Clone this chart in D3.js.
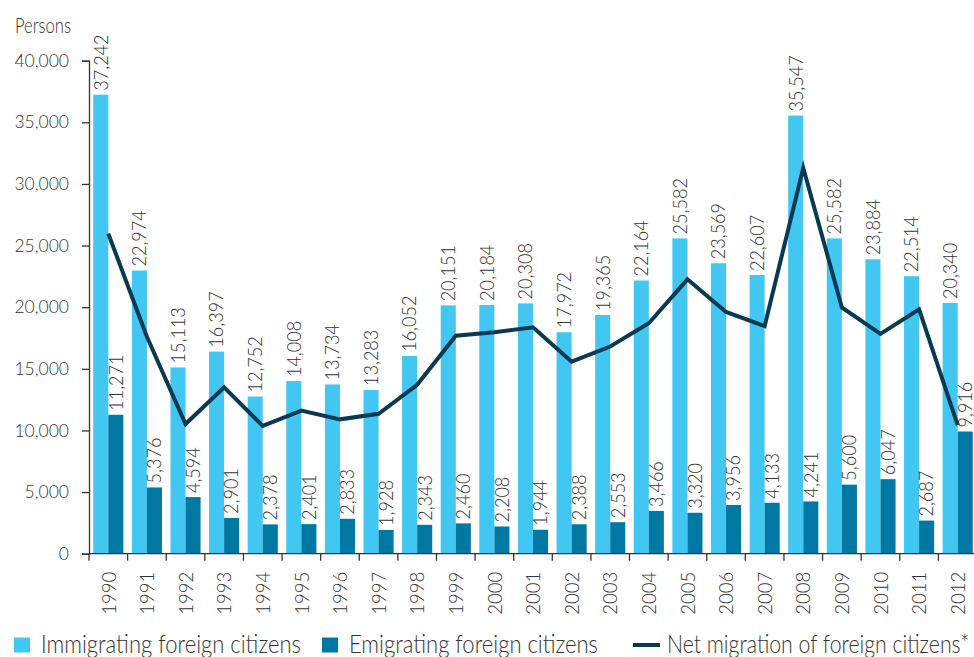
<!DOCTYPE html>
<html>
<head>
<meta charset="utf-8">
<script src="https://cdn.jsdelivr.net/npm/d3@7"></script>
<style>
  body { margin: 0; background: #fff; }
  text { font-family: Lato, Roboto, "DejaVu Sans", sans-serif; font-weight: 300; fill: #333; }
</style>
</head>
<body>
<div id="chart-area"></div>
<script>
// data
var years = ["1990","1991","1992","1993","1994","1995","1996","1997","1998","1999","2000","2001",
             "2002","2003","2004","2005","2006","2007","2008","2009","2010","2011","2012"];
var immigrating = [37242, 22974, 15113, 16397, 12752, 14008, 13734, 13283, 16052, 20151, 20184, 20308,
                   17972, 19365, 22164, 25582, 23569, 22607, 35547, 25582, 23884, 22514, 20340];
var emigrating = [11271, 5376, 4594, 2901, 2378, 2401, 2833, 1928, 2343, 2460, 2208, 1944,
                  2388, 2553, 3466, 3320, 3956, 4133, 4241, 5600, 6047, 2687, 9916];
var netMigration = [25971, 17598, 10519, 13496, 10374, 11607, 10901, 11355, 13709, 17691, 17976, 18364,
                    15584, 16812, 18698, 22262, 19613, 18474, 31306, 19982, 17837, 19827, 10424];
var yTicks = [0, 5000, 10000, 15000, 20000, 25000, 30000, 35000, 40000];
var seriesNames = ["Immigrating foreign citizens", "Emigrating foreign citizens", "Net migration of foreign citizens*"];

var width = 974;
var height = 657;
var colors = {imm: "#41c7f2", emi: "#0078a4", net: "#0a3a52"};

var svg = d3.select('#chart-area')
    .append('svg')
        .attr('width', width)
        .attr('height', height);

var y = d3.scaleLinear().domain([0, 40000]).range([553.7, 60.7]);
var x = d3.scaleBand().domain(years).range([89, 977]).paddingInner(0.22).paddingOuter(0.11);
var inner = d3.scaleBand().domain(["imm", "emi"]).range([0, x.bandwidth()]);
var fmt = d3.format(",");

// y axis
var leftAxis = d3.axisLeft(y).tickValues(yTicks).tickFormat(fmt).tickSize(7).tickPadding(13);
var gy = svg.append("g")
    .attr("transform", "translate(89,0)")
    .call(leftAxis);
gy.select(".domain").attr("stroke", "#333").attr("stroke-width", 1.3);
gy.selectAll(".tick line").attr("stroke", "#333").attr("stroke-width", 1.3);
gy.selectAll(".tick text")
    .attr("font-size", "17.5px")
    .attr("fill", "#333")
    .style("font-family", "Lato, Roboto, sans-serif");

svg.append("text")
    .attr("transform", "translate(15,33) scale(0.79,1)")
    .attr("font-size", "21px")
    .text("Persons");

// bars
var groups = svg.selectAll("g.year")
    .data(years)
    .enter().append("g")
        .attr("class", "year")
        .attr("transform", (d) => "translate(" + x(d) + ",0)");

groups.append("rect")
    .attr("x", inner("imm"))
    .attr("width", inner.bandwidth())
    .attr("y", (d, i) => y(immigrating[i]))
    .attr("height", (d, i) => y(0) - y(immigrating[i]))
    .attr("fill", colors.imm);

groups.append("rect")
    .attr("x", inner("emi"))
    .attr("width", inner.bandwidth())
    .attr("y", (d, i) => y(emigrating[i]))
    .attr("height", (d, i) => y(0) - y(emigrating[i]))
    .attr("fill", colors.emi);

// value labels
function valueLabel(sel, key, values) {
    sel.append("text")
        .attr("transform", (d, i) => "translate(" + (inner(key) + inner.bandwidth() / 2) + "," + (y(values[i]) - 4) + ") rotate(-90) scale(0.95,1)")
        .attr("dy", "0.36em")
        .attr("font-size", "19px")
        .text((d, i) => fmt(values[i]));
}
valueLabel(groups, "imm", immigrating);
valueLabel(groups, "emi", emigrating);

// x axis
svg.append("line")
    .attr("x1", 89).attr("x2", 977)
    .attr("y1", y(0)).attr("y2", y(0))
    .attr("stroke", "#333").attr("stroke-width", 1.3);

svg.selectAll("line.xtick")
    .data(years)
    .enter().append("line")
        .attr("class", "xtick")
        .attr("x1", (d) => x(d) - x.step() * x.paddingOuter())
        .attr("x2", (d) => x(d) - x.step() * x.paddingOuter())
        .attr("y1", y(0)).attr("y2", y(0) + 7)
        .attr("stroke", "#333").attr("stroke-width", 1.3);

svg.selectAll("text.year")
    .data(years)
    .enter().append("text")
        .attr("class", "year")
        .attr("transform", (d) => "translate(" + (x(d) + x.bandwidth() / 2) + "," + (y(0) + 18) + ") rotate(-90) scale(0.93,1)")
        .attr("dy", "0.36em")
        .attr("text-anchor", "end")
        .attr("font-size", "20px")
        .text((d) => d);

// net migration line
var line = d3.line()
    .x((d, i) => x(years[i]) + x.bandwidth() / 2)
    .y((d) => y(d));

svg.append("path")
    .datum(netMigration)
    .attr("d", line)
    .attr("fill", "none")
    .attr("stroke", colors.net)
    .attr("stroke-width", 4);

// legend
var legend = svg.append("g").attr("transform", "translate(0,644)");
var legendItems = [
    {x: 14, type: "rect", color: colors.imm, textX: 41, sx: 0.88},
    {x: 322, type: "rect", color: colors.emi, textX: 349, sx: 0.88},
    {x: 633, type: "line", color: colors.net, textX: 667, sx: 0.85}
];
legendItems.forEach((item, i) => {
    if (item.type == "rect") {
        legend.append("rect")
            .attr("x", item.x).attr("y", -6.5)
            .attr("width", 16).attr("height", 15)
            .attr("fill", item.color);
    } else {
        legend.append("line")
            .attr("x1", item.x).attr("x2", item.x + 27)
            .attr("y1", 1).attr("y2", 1)
            .attr("stroke", item.color).attr("stroke-width", 4);
    }
    legend.append("text")
        .attr("transform", "translate(" + item.textX + ",0) scale(" + item.sx + ",1)")
        .attr("dy", "0.36em")
        .attr("font-size", "25px")
        .text(seriesNames[i]);
});
</script>
</body>
</html>
